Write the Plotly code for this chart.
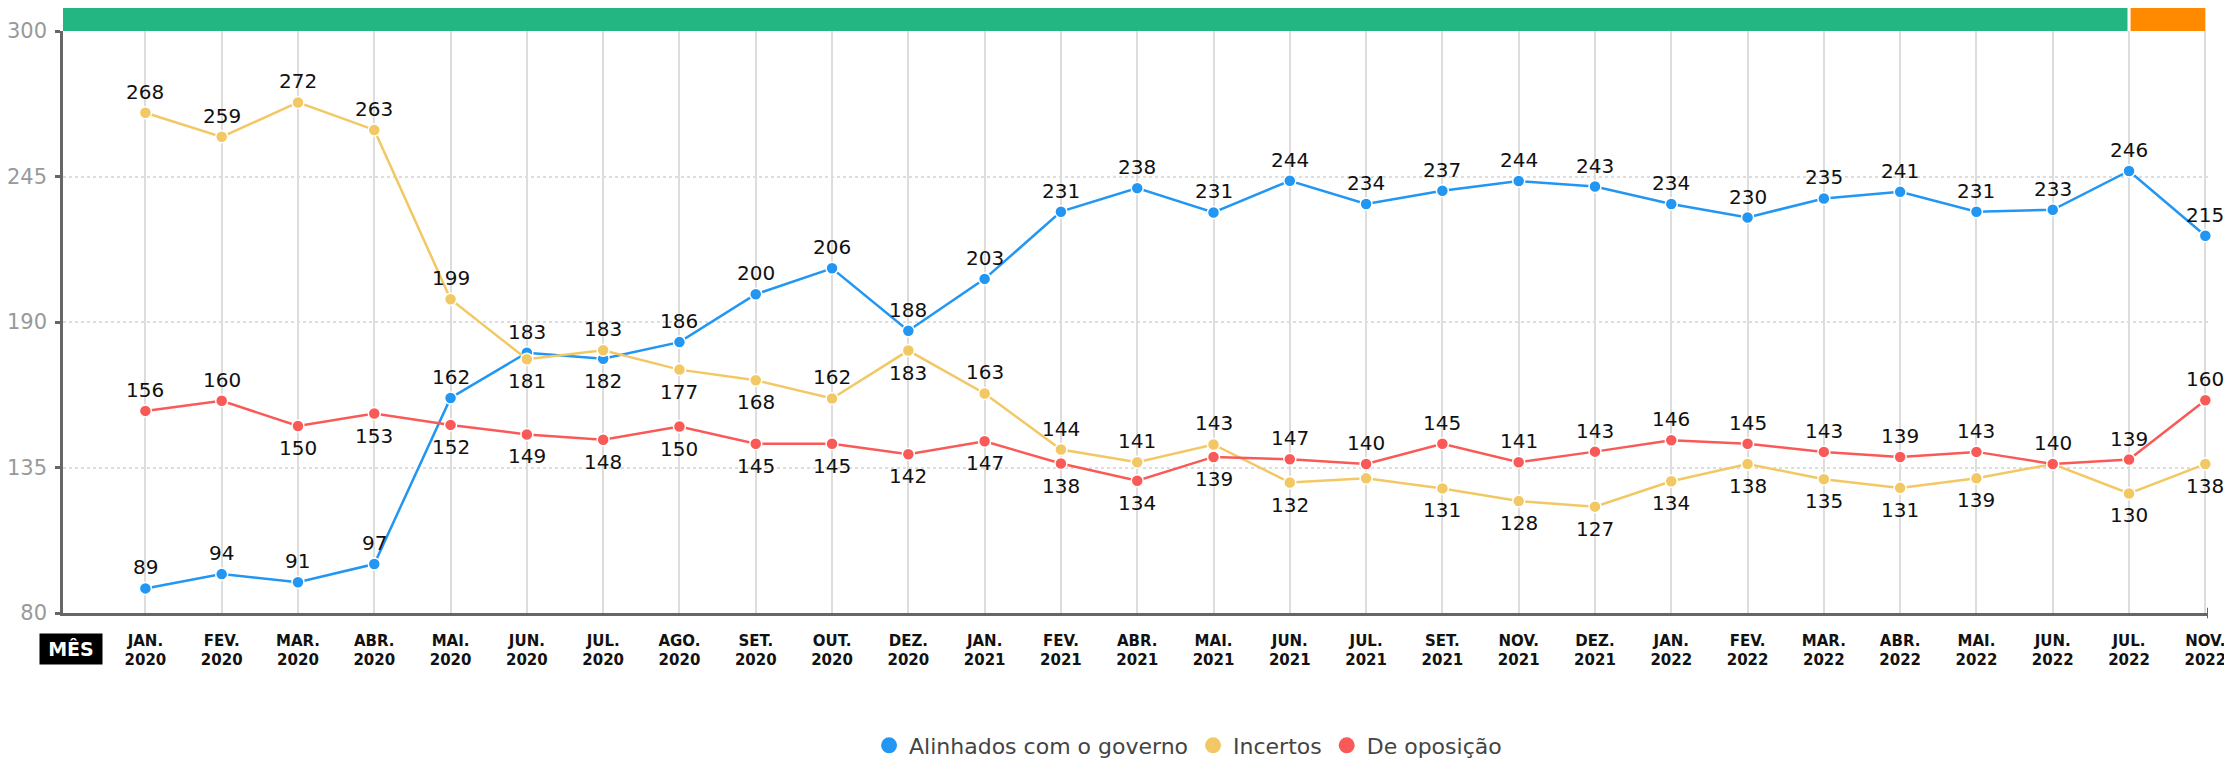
import plotly.graph_objects as go

# ---------------- data ----------------
months = ["JAN.<br>2020", "FEV.<br>2020", "MAR.<br>2020", "ABR.<br>2020", "MAI.<br>2020",
          "JUN.<br>2020", "JUL.<br>2020", "AGO.<br>2020", "SET.<br>2020", "OUT.<br>2020",
          "DEZ.<br>2020", "JAN.<br>2021", "FEV.<br>2021", "ABR.<br>2021", "MAI.<br>2021",
          "JUN.<br>2021", "JUL.<br>2021", "SET.<br>2021", "NOV.<br>2021", "DEZ.<br>2021",
          "JAN.<br>2022", "FEV.<br>2022", "MAR.<br>2022", "ABR.<br>2022", "MAI.<br>2022",
          "JUN.<br>2022", "JUL.<br>2022", "NOV.<br>2022"]

# plotted positions
alinhados = [89.3, 94.7, 91.6, 98.5, 161.3, 178.4, 176.1, 182.4, 200.5, 210.3, 186.7, 206.3,
             231.7, 240.6, 231.4, 243.4, 234.6, 239.6, 243.3, 241.2, 234.6, 229.5, 236.7,
             239.2, 231.7, 232.4, 247.1, 222.6]
incertos = [269.1, 260.0, 273.0, 262.6, 198.6, 175.9, 179.3, 172.0, 168.0, 161.1, 179.2, 163.0,
            141.8, 137.0, 143.7, 129.3, 130.9, 127.1, 122.3, 120.2, 129.8, 136.3, 130.6,
            127.3, 130.9, 136.3, 125.2, 136.3]
oposicao = [156.4, 160.2, 150.7, 155.4, 151.1, 147.5, 145.5, 150.5, 144.0, 144.0, 140.0, 144.9,
            136.5, 130.0, 139.0, 138.1, 136.3, 144.0, 137.0, 141.0, 145.3, 144.0, 140.9,
            139.0, 140.9, 136.3, 138.0, 160.4]

# printed value labels
alinhados_lbl = ["89", "94", "91", "97", "162", "183", "182", "186", "200", "206", "188", "203",
                 "231", "238", "231", "244", "234", "237", "244", "243", "234", "230", "235",
                 "241", "231", "233", "246", "215"]
incertos_lbl = ["268", "259", "272", "263", "199", "181", "183", "177", "168", "162", "183", "163",
                "144", "141", "143", "132", "", "131", "128", "127", "134", "138", "135",
                "131", "139", "", "130", "138"]
oposicao_lbl = ["156", "160", "150", "153", "152", "149", "148", "150", "145", "145", "142", "147",
                "138", "134", "139", "147", "140", "145", "141", "143", "146", "145", "143",
                "139", "143", "140", "139", "160"]

# label placement: T = above, B = below
alinhados_pos = "TTTTTTBTTTTTTTTTTTTTTTTTTTTT"
incertos_pos = "TTTTTBTBBTBTTTTBBBBBBBBBBBBB"
oposicao_pos = "TTBBBBBBBBBBBBBTTTTTTTTTTTTT"

series_names = ["Alinhados com o governo", "Incertos", "De oposição"]
series_colors = ["#2196F3", "#F2C864", "#FA5A57"]

y_ticks = [80, 135, 190, 245, 300]

FONT = "DejaVu Sans"

fig = go.Figure()

for name, color, ys, lbl, pos in zip(series_names, series_colors,
                                     [alinhados, incertos, oposicao],
                                     [alinhados_lbl, incertos_lbl, oposicao_lbl],
                                     [alinhados_pos, incertos_pos, oposicao_pos]):
    fig.add_trace(go.Scatter(
        x=months, y=ys, mode="lines+markers",
        line=dict(color=color, width=2.5),
        marker=dict(color=color, size=12, line=dict(color="white", width=1.5)),
        cliponaxis=False, showlegend=False, name=name, hoverinfo="x+y",
    ))
    for m, v, t, p in zip(months, ys, lbl, pos):
        if t:
            fig.add_annotation(x=m, y=v, text=t, showarrow=False,
                               yshift=21 if p == "T" else -22,
                               xanchor="center", yanchor="middle",
                               font=dict(family=FONT, size=20, color="#111"))

# legend entries (circles only)
for name, color in zip(series_names, series_colors):
    fig.add_trace(go.Scatter(x=[None], y=[None], mode="markers", name=name,
                             marker=dict(color=color, size=16)))

n = len(months)
x_start = -1.08
x_end = n - 1 + 0.035

# top period bar
fig.add_shape(type="rect", xref="x", yref="paper", x0=x_start, x1=n - 2 - 0.02,
              y0=1.0, y1=1.041, fillcolor="#23B682", line=dict(width=0), layer="above")
fig.add_shape(type="rect", xref="x", yref="paper", x0=n - 2 + 0.02, x1=n - 1,
              y0=1.0, y1=1.041, fillcolor="#FF8A00", line=dict(width=0), layer="above")
# right end tick of the x axis
fig.add_shape(type="line", xref="x", yref="paper", x0=x_end, x1=x_end,
              y0=-0.009, y1=0.009, line=dict(color="#666", width=2))

fig.add_annotation(text="<b>MÊS</b>", xref="paper", yref="paper", x=0.0037, y=-0.062,
                   showarrow=False, font=dict(family=FONT, size=19, color="white"),
                   bgcolor="black", width=58, height=26, borderpad=2,
                   xanchor="center", yanchor="middle")

# the page body has an 8px margin, so the figure is 8px smaller on each axis
fig.update_layout(
    width=2224, height=751, autosize=False,
    margin=dict(l=55, r=24, t=23, b=146),
    paper_bgcolor="white", plot_bgcolor="white",
    font=dict(family=FONT),
    xaxis=dict(
        type="category", range=[x_start, x_end], automargin=False,
        showgrid=True, gridcolor="#DDDDDD", gridwidth=1.5,
        showline=True, linecolor="#666", linewidth=2.5,
        ticks="", ticklabelstandoff=12,
        tickfont=dict(family=FONT, size=15, color="#111", weight="bold"),
        zeroline=False,
    ),
    yaxis=dict(
        range=[80, 300], tickvals=y_ticks, automargin=False,
        showgrid=True, gridcolor="#DDDDDD", gridwidth=1.5, griddash="dot",
        showline=True, linecolor="#666", linewidth=2.5,
        ticks="outside", ticklen=5, tickwidth=2.5, tickcolor="#666",
        ticklabelstandoff=4,
        tickfont=dict(family=FONT, size=21, color="#999"),
        zeroline=False,
    ),
    legend=dict(orientation="h", x=0.5245, xanchor="center",
                yref="container", y=0.018, yanchor="middle",
                font=dict(family=FONT, size=22, color="#444"),
                itemwidth=30, tracegroupgap=0),
)

fig.write_html("out.html")
